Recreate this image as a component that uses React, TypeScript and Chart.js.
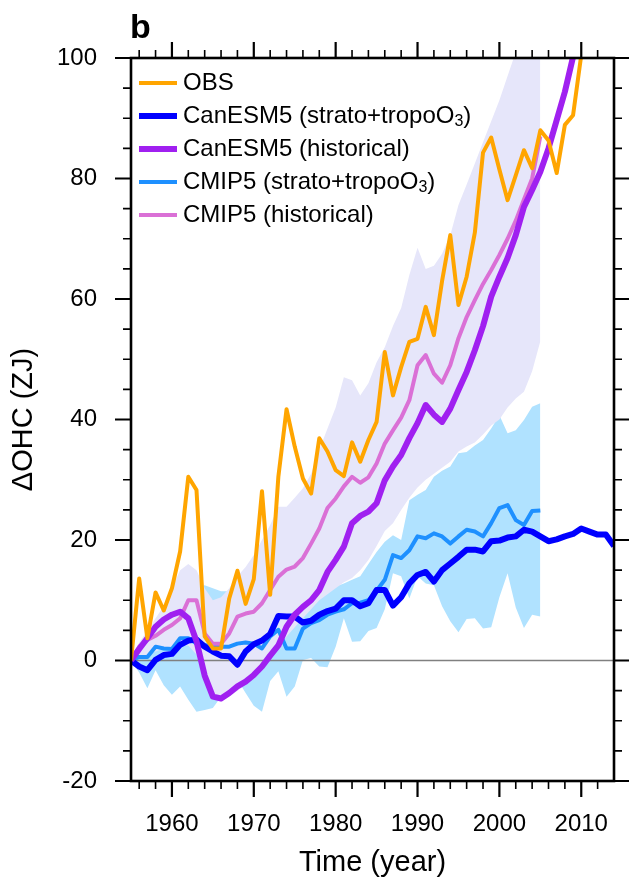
import React, { useEffect, useRef } from "react";
import { Chart, registerables } from "chart.js";

Chart.register(...registerables);

// ---------- data ----------
const years = [
  1955, 1956, 1957, 1958, 1959, 1960, 1961, 1962, 1963, 1964,
  1965, 1966, 1967, 1968, 1969, 1970, 1971, 1972, 1973, 1974,
  1975, 1976, 1977, 1978, 1979, 1980, 1981, 1982, 1983, 1984,
  1985, 1986, 1987, 1988, 1989, 1990, 1991, 1992, 1993, 1994,
  1995, 1996, 1997, 1998, 1999, 2000, 2001, 2002, 2003, 2004,
  2005, 2006, 2007, 2008, 2009, 2010, 2011, 2012, 2013, 2014,
];

const obs = [
  0, 13.6, 3.7, 11.3, 8.3, 12.0, 18.1, 30.5, 28.3, 4.0,
  2.0, 2.0, 10.3, 14.9, 9.4, 13.5, 28.1, 10.9, 30.5, 41.7,
  35.5, 30.2, 27.7, 36.9, 34.7, 31.6, 30.6, 36.2, 33.0, 36.6,
  39.6, 51.2, 44.0, 48.7, 52.9, 53.4, 58.7, 54.0, 63.0, 70.6,
  59.0, 63.7, 71.0, 84.3, 86.8, 81.5, 76.4, 80.5, 84.7, 81.7,
  88.0, 86.3, 80.9, 88.9, 90.5, 100.5, null, null, null, null,
];

const canesmStrato = [
  0, -1.0, -1.6, 0.1, 0.9, 1.1, 2.6, 3.3, 3.5, 2.3,
  1.5, 0.8, 0.7, -0.7, 1.5, 2.7, 3.3, 4.4, 7.4, 7.3,
  7.3, 6.3, 6.6, 7.6, 8.2, 8.6, 10.0, 10.0, 9.0, 9.5,
  11.7, 11.7, 9.1, 10.5, 12.8, 14.2, 14.7, 13.1, 15.0, 16.1,
  17.2, 18.4, 18.4, 18.1, 19.8, 19.9, 20.4, 20.6, 21.7, 21.4,
  20.6, 19.8, 20.1, 20.6, 21.0, 21.9, 21.4, 20.9, 20.9, 19.0,
];

const canesmHist = [
  0, 1.9, 3.7, 5.6, 6.8, 7.6, 8.1, 7.0, 3.2, -2.5,
  -6.0, -6.3, -5.4, -4.3, -3.5, -2.4, -1.0, 0.8, 2.5, 5.6,
  7.6, 8.9, 10.0, 11.7, 14.7, 16.7, 18.9, 22.8, 24.0, 24.7,
  26.1, 29.9, 32.2, 34.1, 36.9, 39.4, 42.4, 40.8, 39.6, 41.8,
  44.9, 47.9, 51.5, 55.5, 60.4, 63.7, 66.8, 70.6, 75.3, 78.1,
  81.1, 85.0, 89.7, 94.4, 100.2, 104.0, null, null, null, null,
];

const cmip5Strato = [
  0, 0.6, 0.6, 2.3, 2.0, 1.9, 3.7, 3.7, 2.8, 2.6,
  2.3, 2.3, 2.3, 2.8, 3.0, 2.8, 2.0, 4.0, 5.1, 2.0,
  2.0, 5.3, 6.2, 6.7, 7.6, 8.1, 8.5, 9.5, 9.6, 10.0,
  11.6, 13.4, 17.5, 17.0, 18.3, 20.6, 20.3, 21.1, 20.6, 19.4,
  20.6, 21.7, 21.4, 20.6, 22.8, 25.3, 25.8, 23.3, 22.5, 24.8,
  24.9, null, null, null, null, null, null, null, null, null,
];

const cmip5Hist = [
  0, 2.3, 3.4, 4.1, 5.1, 5.9, 7.0, 10.0, 10.0, 4.5,
  2.8, 2.8, 4.5, 7.3, 7.8, 8.1, 9.5, 11.7, 13.9, 15.1,
  15.6, 17.0, 19.4, 21.9, 25.3, 26.9, 28.9, 30.5, 29.5, 30.4,
  32.7, 36.0, 38.2, 40.3, 43.2, 49.0, 50.7, 47.6, 46.1, 49.0,
  53.5, 57.0, 59.8, 62.5, 64.8, 67.3, 70.0, 73.0, 76.5, 80.0,
  87.0, null, null, null, null, null, null, null, null, null,
];

// CMIP5 (historical) ensemble range (lavender shading)
const cmip5HistHi = [
  0, 3, 5, 7, 9, 12, 15, 16, 15, 12,
  10, 10.5, 12, 14, 15.5, 17.5, 20, 22.5, 25.5, 25.5,
  27, 28.6, 31, 35, 38.5, 42, 47, 46.5, 44, 46,
  49.5, 52, 55.5, 58.5, 64, 68.5, 65, 65.5, 67.5, 70.6,
  75.6, 79, 82.5, 86, 89.5, 93, 97, 101, 105, 108,
  110, null, null, null, null, null, null, null, null, null,
];
const cmip5HistLo = [
  0, 0.5, 1, 1.5, 2, 2.2, 2.5, 2.5, 1, -3,
  -6.3, -6.8, -6, -5, -4, -2.5, -1, 0.5, 2.5, 4,
  5.5, 7, 8.5, 10, 11, 12, 13, 13.7, 15, 16.7,
  19, 21.5, 22.8, 25, 27, 28.7, 30, 31, 32, 33,
  34.7, 35.5, 36.2, 37.5, 39, 40, 42, 43.5, 44.6, 48,
  53, null, null, null, null, null, null, null, null, null,
];

// CMIP5 (strato+tropoO3) ensemble range (light blue shading)
const cmip5StratoHi = [
  0, 2, 3, 4, 5, 6, 8, 10, 12, 12.5,
  12, 11.5, 11.5, 12, 12, 12.5, 12.5, 12, 12, 11.5,
  11.5, 11.5, 11.5, 11, 12, 12.3, 12.8, 13.4, 14, 16,
  18, 19.7, 20.8, 20.0, 26.6, 27.5, 28.3, 30.5, 31.5, 32.2,
  34.4, 34.6, 35.7, 36.6, 38.5, 40.7, 37.7, 38.2, 39.9, 42.1,
  42.7, null, null, null, null, null, null, null, null, null,
];
const cmip5StratoLo = [
  0, -2, -4.6, -1.6, -4.1, -5.7, -4.3, -6.5, -8.5, -8.2,
  -7.9, -6.0, -4.3, -3.2, -5.4, -7.5, -8.5, -3.4, -1.8, -6.0,
  -4.3, 0.1, 0.4, -1.0, -1.1, 2.3, 7.0, 3.1, 3.2, 4.9,
  5.4, 8.5, 14.5, 14.0, 10.3, 14.0, 12.8, 12.5, 9.0, 6.5,
  4.7, 6.9, 7.0, 5.3, 5.5, 10.5, 14.5, 8.8, 5.4, 7.6,
  7.3, null, null, null, null, null, null, null, null, null,
];

const zeroLine = [0, 0];
const zeroLineYears = [1955, 2014];

// ticks
const xLabelTicks = [1960, 1970, 1980, 1990, 2000, 2010];
const xMinorTicks = [
  1956, 1958, 1962, 1964, 1966, 1968, 1972, 1974, 1976, 1978,
  1982, 1984, 1986, 1988, 1992, 1994, 1996, 1998, 2002, 2004,
  2006, 2008, 2012,
];
const yLabelTicks = [-20, 0, 20, 40, 60, 80, 100];
const yMinorTicks = [
  -15, -10, -5, 5, 10, 15, 25, 30, 35, 45, 50, 55, 65, 70, 75, 85, 90, 95,
];

// legend
const legendEntries = [
  { main: "OBS", sub: "", tail: "", color: "#FFA500", width: 4 },
  { main: "CanESM5 (strato+tropoO", sub: "3", tail: ")", color: "#0000FF", width: 6 },
  { main: "CanESM5 (historical)", sub: "", tail: "", color: "#A020F0", width: 6 },
  { main: "CMIP5 (strato+tropoO", sub: "3", tail: ")", color: "#1E90FF", width: 4 },
  { main: "CMIP5 (historical)", sub: "", tail: "", color: "#DA70D6", width: 4 },
];

const FONT = '"Liberation Sans", Arial, Helvetica, sans-serif';

function pts(xs: number[], vals: (number | null)[]) {
  return xs.map((x, i) => ({ x, y: vals[i] }));
}

const noPad = (s: any) => {
  s.paddingLeft = 0;
  s.paddingRight = 0;
  s.paddingTop = 0;
  s.paddingBottom = 0;
};

const framePlugin = {
  id: "frameAndLegend",
  afterDraw(chart: any) {
    const { ctx, chartArea } = chart;
    const { left, right, top, bottom } = chartArea;
    const xs = chart.scales.x;
    const ys = chart.scales.y;
    ctx.save();
    ctx.strokeStyle = "#000";
    ctx.lineCap = "butt";

    const drawX = (vals: number[], len: number, w: number) => {
      ctx.lineWidth = w;
      ctx.beginPath();
      vals.forEach((v) => {
        const px = xs.getPixelForValue(v);
        ctx.moveTo(px, bottom);
        ctx.lineTo(px, bottom + len);
        ctx.moveTo(px, top);
        ctx.lineTo(px, top - len);
      });
      ctx.stroke();
    };
    const drawY = (vals: number[], len: number, w: number) => {
      ctx.lineWidth = w;
      ctx.beginPath();
      vals.forEach((v) => {
        const py = ys.getPixelForValue(v);
        ctx.moveTo(left, py);
        ctx.lineTo(left - len, py);
        ctx.moveTo(right, py);
        ctx.lineTo(right + len, py);
      });
      ctx.stroke();
    };
    drawX(xLabelTicks, 16, 2.2);
    drawX(xMinorTicks, 8, 1.6);
    drawY(yLabelTicks, 16, 2.2);
    drawY(yMinorTicks, 8, 1.6);

    ctx.lineWidth = 2.6;
    ctx.strokeRect(left, top, right - left, bottom - top);

    // panel label
    ctx.fillStyle = "#000";
    ctx.font = `bold 34px ${FONT}`;
    ctx.textAlign = "left";
    ctx.textBaseline = "alphabetic";
    ctx.fillText("b", left - 1, 38);

    // legend
    const x0 = left + 8;
    const lineLen = 38;
    legendEntries.forEach((e, i) => {
      const y = top + 25 + i * 33;
      ctx.strokeStyle = e.color;
      ctx.lineWidth = e.width;
      ctx.beginPath();
      ctx.moveTo(x0, y);
      ctx.lineTo(x0 + lineLen, y);
      ctx.stroke();
      ctx.fillStyle = "#000";
      ctx.textBaseline = "middle";
      ctx.font = `24px ${FONT}`;
      let tx = x0 + lineLen + 6;
      ctx.fillText(e.main, tx, y);
      tx += ctx.measureText(e.main).width;
      if (e.sub) {
        ctx.font = `16px ${FONT}`;
        ctx.fillText(e.sub, tx, y + 6);
        tx += ctx.measureText(e.sub).width;
        ctx.font = `24px ${FONT}`;
      }
      if (e.tail) ctx.fillText(e.tail, tx, y);
    });
    ctx.restore();
  },
};

export default function App() {
  const ref = useRef<HTMLCanvasElement | null>(null);

  useEffect(() => {
    if (!ref.current) return;
    const line = (label: string, data: any[], color: string, width: number, order: number) => ({
      label,
      data,
      borderColor: color,
      backgroundColor: color,
      borderWidth: width,
      pointRadius: 0,
      fill: false,
      order,
      clip: 0,
      spanGaps: false,
    });
    const chart = new Chart(ref.current, {
      type: "line",
      data: {
        datasets: [
          line("OBS", pts(years, obs), "#FFA500", 4, 0),
          line("CanESM5 (strato+tropoO₃)", pts(years, canesmStrato), "#0000FF", 6, 2),
          line("CanESM5 (historical)", pts(years, canesmHist), "#A020F0", 6, 1),
          line("CMIP5 (strato+tropoO₃)", pts(years, cmip5Strato), "#1E90FF", 4, 4),
          line("CMIP5 (historical)", pts(years, cmip5Hist), "#DA70D6", 4, 3),
          line("zero", pts(zeroLineYears, zeroLine), "#808080", 1.5, 5),
          {
            label: "CMIP5 (historical) range",
            data: pts(years, cmip5HistHi),
            borderWidth: 0,
            borderColor: "rgba(0,0,0,0)",
            backgroundColor: "#E6E6FA",
            pointRadius: 0,
            fill: { target: 7 },
            order: 6,
            clip: 0,
          },
          {
            label: "CMIP5 (historical) range lo",
            data: pts(years, cmip5HistLo),
            borderWidth: 0,
            borderColor: "rgba(0,0,0,0)",
            pointRadius: 0,
            fill: false,
            order: 7,
            clip: 0,
          },
          {
            label: "CMIP5 (strato+tropoO₃) range",
            data: pts(years, cmip5StratoHi),
            borderWidth: 0,
            borderColor: "rgba(0,0,0,0)",
            backgroundColor: "#B0E2FF",
            pointRadius: 0,
            fill: { target: 9 },
            order: 8,
            clip: 0,
          },
          {
            label: "CMIP5 (strato+tropoO₃) range lo",
            data: pts(years, cmip5StratoLo),
            borderWidth: 0,
            borderColor: "rgba(0,0,0,0)",
            pointRadius: 0,
            fill: false,
            order: 9,
            clip: 0,
          },
        ] as any,
      },
      options: {
        animation: false,
        responsive: false,
        layout: { padding: { top: 58, right: 15, left: 0, bottom: 0 } },
        elements: {
          point: { radius: 0 },
          line: { tension: 0, borderJoinStyle: "round", borderCapStyle: "butt" },
        },
        plugins: {
          legend: { display: false },
          tooltip: { enabled: false },
          title: { display: false },
          filler: { drawTime: "beforeDatasetsDraw", propagate: false },
        } as any,
        scales: {
          x: {
            type: "linear",
            position: "bottom",
            min: 1955,
            max: 2014,
            grid: { display: false, drawTicks: false },
            border: { display: false },
            afterBuildTicks: (s: any) => {
              s.ticks = xLabelTicks.map((v) => ({ value: v }));
            },
            afterFit: (s: any) => {
              s.height = 101;
              noPad(s);
            },
            ticks: {
              autoSkip: false,
              maxRotation: 0,
              minRotation: 0,
              padding: 29,
              color: "#000",
              font: { family: FONT, size: 24 },
              callback: (v: any) => String(v),
            },
            title: {
              display: true,
              text: "Time (year)",
              color: "#000",
              font: { family: FONT, size: 29 },
              padding: { top: 0, bottom: 2 },
            },
          },
          y: {
            type: "linear",
            position: "left",
            min: -20,
            max: 100,
            grid: { display: false, drawTicks: false },
            border: { display: false },
            afterBuildTicks: (s: any) => {
              s.ticks = yLabelTicks.map((v) => ({ value: v }));
            },
            afterFit: (s: any) => {
              s.width = 131;
              noPad(s);
            },
            ticks: {
              padding: 34,
              color: "#000",
              font: { family: FONT, size: 24 },
              callback: (v: any) => String(v),
            },
            title: {
              display: true,
              text: "ΔOHC (ZJ)",
              color: "#000",
              font: { family: FONT, size: 29 },
              padding: { top: 7, bottom: 0 },
            },
          },
        },
      } as any,
      plugins: [framePlugin],
    });
    return () => chart.destroy();
  }, []);

  return (
    <div style={{ position: "absolute", left: 0, top: 0, width: 629, height: 882, background: "#fff" }}>
      <canvas ref={ref} width={629} height={882} style={{ display: "block" }} />
    </div>
  );
}
